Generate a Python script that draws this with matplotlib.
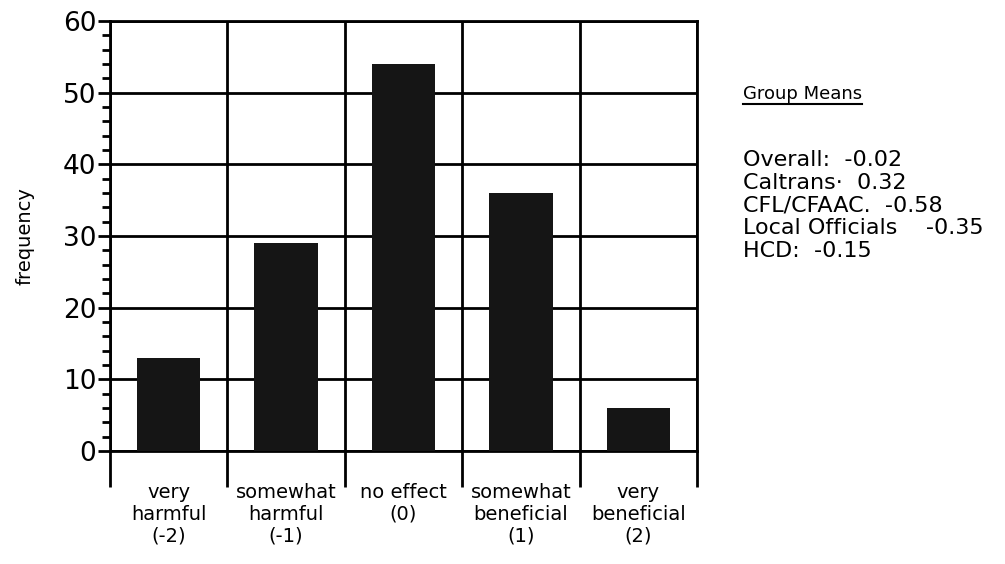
import numpy as np
import matplotlib.pyplot as plt
from matplotlib.lines import Line2D

plt.rcParams['font.family'] = ['DejaVu Sans']

# Data
categories = ["very\nharmful\n(-2)", "somewhat\nharmful\n(-1)", "no effect\n(0)",
              "somewhat\nbeneficial\n(1)", "very\nbeneficial\n(2)"]
freq = [13, 29, 54, 36, 6]

group_names = ["Overall:", "Caltrans\u00b7", "CFL/CFAAC.", "Local Officials", "HCD:"]
group_means = ["-0.02", "0.32", "-0.58", "  -0.35", "-0.15"]

fig = plt.figure(figsize=(10.05, 5.64), dpi=100)
ax = fig.add_axes([0.1095, 0.2004, 0.584, 0.7624])

x = np.arange(len(freq))
ax.bar(x, freq, width=0.54, color='#151515', zorder=3)

ax.set_xlim(-0.5, len(freq) - 0.5)
ax.set_ylim(0, 60)

# y axis: majors every 10, minors every 2, all outward
ax.set_yticks(np.arange(0, 61, 10))
ax.set_yticks(np.arange(0, 61, 2), minor=True)
ax.tick_params(axis='y', which='major', direction='out', length=9, width=2,
               labelsize=19, pad=1)
ax.tick_params(axis='y', which='minor', direction='out', length=6, width=2)

# x axis: long ticks at category boundaries, labels at centres
ax.set_xticks(np.arange(-0.5, len(freq), 1.0))
ax.set_xticklabels([])
ax.tick_params(axis='x', which='major', direction='out', length=26, width=2)
ax.set_xticks(x, minor=True)
ax.set_xticklabels(categories, minor=True, fontsize=14, linespacing=1.2)
ax.tick_params(axis='x', which='minor', length=0, pad=23)

ax.grid(True, which='major', color='black', linewidth=2, zorder=1)
for s in ax.spines.values():
    s.set_linewidth(2)

ax.set_ylabel("frequency", fontsize=14, labelpad=20)

# Group means text on the right
t = fig.text(0.739, 0.825, "Group Means", fontsize=13, va='baseline')
fig.canvas.draw()
bb = t.get_window_extent().transformed(fig.transFigure.inverted())
fig.add_artist(Line2D([bb.x0, bb.x1], [bb.y0 - 0.002, bb.y0 - 0.002],
                      transform=fig.transFigure, color='black', linewidth=1.5))

for i, (n, m) in enumerate(zip(group_names, group_means)):
    fig.text(0.739, 0.706 - i * 0.0405, f"{n}  {m}", fontsize=16, va='baseline')

fig.savefig("out.png", dpi=100)
